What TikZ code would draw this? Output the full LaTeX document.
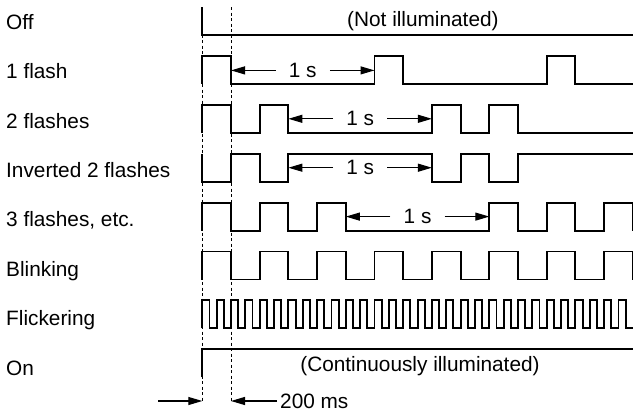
\documentclass[tikz,border=0pt]{standalone}
\usepackage{fontspec}
\setmainfont{Liberation Sans}
\usetikzlibrary{arrows.meta}
\begin{document}
\begin{tikzpicture}[x=1pt,y=-1pt,
  sig/.style={line width=1.9pt, line join=miter},
  guide/.style={line width=0.9pt, dash pattern=on 3pt off 2.5pt},
  dim/.style={line width=1.1pt, -{Triangle[length=14pt,width=8pt]}},
  txt/.style={inner sep=0pt, font=\fontsize{20.8}{24}\selectfont},
  lbl/.style={txt, anchor=base west},
  gap/.style={txt, inner xsep=13pt}]
\useasboundingbox (0,0) rectangle (633,413);

% row labels
\node[lbl] (l0) at (6,29.3) {Off};
\node[lbl] (l1) at (6,78.7) {1 flash};
\node[lbl] (l2) at (6,128.1) {2 flashes};
\node[lbl] (l3) at (6,177.5) {Inverted 2 flashes};
\node[lbl] (l4) at (6,226.9) {3 flashes, etc.};
\node[lbl] (l5) at (6,276.3) {Blinking};
\node[lbl] (l6) at (6,325.7) {Flickering};
\node[lbl] (l7) at (6,375.1) {On};

\begin{scope}[shift={(202.3,0)}, x=28.7pt]
  % guides
  \draw[guide] (0,7) -- (0,401);
  \draw[guide] (1,7) -- (1,401);
  % Off
  \draw[sig] (0,7) -- (0,35) -- (15,35);
  % 1 flash
  \draw[sig] (0,83.9) foreach \a in {0,6,12} { -- (\a,83.9) -- (\a,55.9) -- (\a+1,55.9) -- (\a+1,83.9) } -- (15,83.9);
  % 2 flashes
  \draw[sig] (0,132.8) foreach \a in {0,2,8,10} { -- (\a,132.8) -- (\a,104.8) -- (\a+1,104.8) -- (\a+1,132.8) } -- (15,132.8);
  % inverted 2 flashes
  \draw[sig] (0,153.7) -- (0,181.7) -- (1,181.7) -- (1,153.7) -- (2,153.7) -- (2,181.7) -- (3,181.7) -- (3,153.7)
     -- (8,153.7) -- (8,181.7) -- (9,181.7) -- (9,153.7) -- (10,153.7) -- (10,181.7) -- (11,181.7) -- (11,153.7) -- (15,153.7);
  % 3 flashes
  \draw[sig] (0,230.6) foreach \a in {0,2,4,10,12,14} { -- (\a,230.6) -- (\a,202.6) -- (\a+1,202.6) -- (\a+1,230.6) };
  % blinking
  \draw[sig] (0,279.5) foreach \a in {0,2,...,14} { -- (\a,279.5) -- (\a,251.5) -- (\a+1,251.5) -- (\a+1,279.5) };
  % flickering
  \draw[sig] (0,328.4) foreach \a in {0,0.5,...,14.5} { -- (\a,328.4) -- (\a,300.4) -- (\a+0.25,300.4) -- (\a+0.25,328.4) } -- (15,328.4);
  % On
  \draw[sig] (0,377.3) -- (0,349.3) -- (15,349.3);

  % 1 s dimensions
  \coordinate (a1l) at (1,70.4);  \coordinate (a1r) at (6,70.4);
  \coordinate (a2l) at (3,118.8); \coordinate (a2r) at (8,118.8);
  \coordinate (a3l) at (3,167.7); \coordinate (a3r) at (8,167.7);
  \coordinate (a4l) at (5,216.6); \coordinate (a4r) at (10,216.6);
  \node[gap] (s1) at (3.5,70.4) {1 s};
  \node[gap] (s2) at (5.5,118.8) {1 s};
  \node[gap] (s3) at (5.5,167.7) {1 s};
  \node[gap] (s4) at (7.5,216.6) {1 s};
  \coordinate (b0) at (0,401);
  \coordinate (b1) at (1,401);
\end{scope}
\draw[dim] (s1) -- (a1l); \draw[dim] (s1) -- (a1r);
\draw[dim] (s2) -- (a2l); \draw[dim] (s2) -- (a2r);
\draw[dim] (s3) -- (a3l); \draw[dim] (s3) -- (a3r);
\draw[dim] (s4) -- (a4l); \draw[dim] (s4) -- (a4r);

\node[txt, anchor=base west] (ni) at (347,26) {(Not illuminated)};
\node[txt, anchor=base] (ci) at (420,371) {(Continuously illuminated)};

\coordinate (bl) at (158,401);
\draw[dim] (bl) -- (b0);
\node[txt, anchor=west, inner xsep=3pt] (ms) at (277,401) {200 ms};
\draw[dim] (ms.west) -- (b1);
\end{tikzpicture}
\end{document}
